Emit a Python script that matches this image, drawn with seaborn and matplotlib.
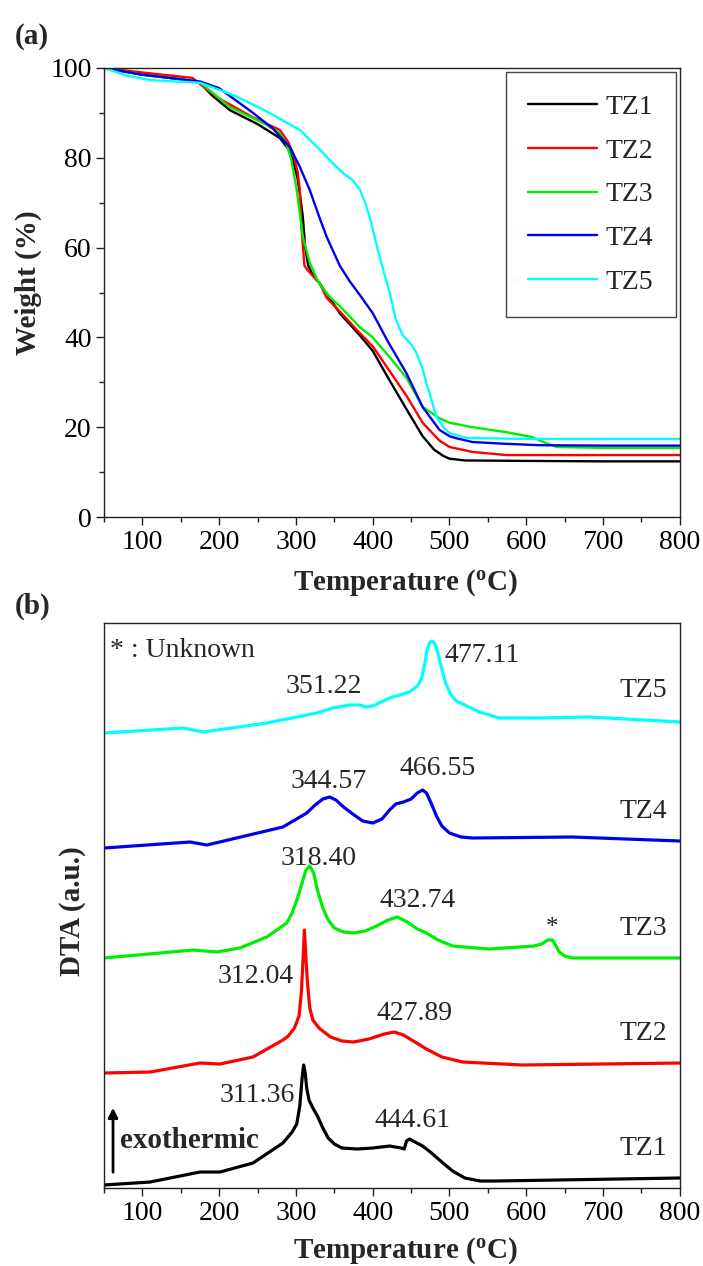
import matplotlib
matplotlib.use('Agg')
import matplotlib.pyplot as plt
from matplotlib.ticker import MultipleLocator
import numpy as np
import seaborn as sns
import pandas as pd

samples = ['TZ1', 'TZ2', 'TZ3', 'TZ4', 'TZ5']
colors = ['#000000', '#ff0000', '#00ee00', '#0000ee', '#00ffff']

# ---- TGA (panel a), weight % ----
tz1_x = [50, 100, 150, 175, 190, 214, 250, 279, 290, 296, 302, 305, 309, 312, 316, 320, 331, 345, 357, 383, 400, 420, 444, 465, 480, 492, 500, 520, 600, 700, 800]
tz1_y = [100, 98.5, 97.5, 96.7, 94, 90.6, 87.5, 84.4, 82, 79.5, 75.5, 72, 66.8, 60, 56, 54.5, 52, 48.5, 45.4, 40.5, 37, 31, 24, 18, 15, 13.6, 13, 12.6, 12.5, 12.4, 12.4]
tz2_x = [50, 100, 132, 165, 197, 244, 279, 290, 296, 302, 305, 307, 311, 315, 331, 340, 357, 383, 400, 420, 444, 465, 487, 500, 530, 574, 700, 800]
tz2_y = [100, 99, 98.4, 97.8, 93.5, 89, 86.2, 83.5, 81, 77, 73, 65, 56, 55, 52, 48.8, 45.8, 41, 38, 33, 27, 21, 17, 15.6, 14.5, 13.8, 13.8, 13.8]
tz3_x = [50, 100, 150, 175, 214, 260, 279, 288, 294, 301, 309, 318, 330, 344, 357, 383, 400, 420, 444, 465, 487, 500, 530, 574, 608, 625, 640, 700, 800]
tz3_y = [100, 98.5, 97.5, 96.8, 91.3, 87.5, 85.5, 83, 79.5, 72.8, 62.4, 56.6, 52, 49, 47, 42.3, 40, 36, 31, 24.5, 22, 21, 20, 18.9, 17.8, 16.5, 15.6, 15.4, 15.4]
tz4_x = [50, 100, 150, 175, 200, 244, 270, 292, 305, 318, 330, 340, 357, 370, 383, 400, 420, 444, 465, 487, 500, 510, 530, 574, 617, 700, 800]
tz4_y = [100, 98.5, 97.5, 97, 95.5, 90, 86.5, 82.4, 78, 72.8, 67, 62.4, 56, 52.5, 49.5, 45.4, 39, 32, 24.5, 19.4, 18, 17.5, 16.7, 16.3, 16, 15.9, 15.9]
tz5_x = [50, 80, 110, 175, 218, 260, 305, 330, 348, 362, 374, 383, 390, 396, 409, 422, 430, 439, 450, 457, 465, 470, 483, 492, 500, 522, 600, 700, 800]
tz5_y = [100, 98.3, 97.3, 96.7, 94, 90.5, 86.2, 82, 78.8, 76.5, 75, 73, 70, 66.8, 57.9, 50, 44, 40.5, 38.5, 36.5, 33, 29.8, 22.3, 20, 18.7, 17.6, 17.4, 17.4, 17.4]

# ---- DTA (panel b), arbitrary units (stacked curves) ----
d1_x = [50, 110, 175, 201, 244, 283, 295, 301, 305, 308, 310, 312, 314, 317, 322, 328, 335, 342, 350, 360, 380, 400, 422, 437, 441, 444, 448, 455, 465, 475, 490, 504, 520, 540, 560, 800]
d1_y = [3, 6, 16, 16, 25, 45, 56, 64, 82, 110, 123, 115, 100, 88, 80, 72, 60, 50, 44, 40, 39, 40, 42, 40, 39, 47, 49, 46, 42, 36, 26, 17, 10, 7, 7, 10]
d2_x = [50, 110, 175, 201, 244, 283, 290, 298, 304, 307, 309, 311, 313, 315, 318, 322, 330, 345, 360, 375, 395, 415, 428, 440, 455, 470, 490, 517, 595, 800]
d2_y = [115, 116, 125, 124, 131, 148, 152, 160, 172, 195, 225, 258, 230, 205, 180, 168, 160, 151, 147, 146, 149, 154, 156, 153, 146, 139, 131, 126, 123, 125]
d3_x = [50, 166, 197, 227, 262, 288, 295, 302, 308, 313, 318, 323, 328, 335, 342, 350, 362, 375, 390, 405, 420, 432, 445, 458, 470, 485, 504, 552, 610, 620, 628, 634, 638, 643, 650, 660, 800]
d3_y = [230, 238, 236, 240, 251, 265, 275, 290, 305, 318, 322, 315, 298, 280, 268, 260, 256, 255, 257, 262, 268, 271, 266, 259, 255, 248, 242, 239, 242, 244, 248, 248, 243, 236, 232, 230, 230]
d4_x = [50, 162, 184, 283, 314, 325, 335, 344, 352, 362, 374, 387, 400, 412, 422, 430, 440, 450, 458, 465, 470, 476, 483, 490, 500, 515, 530, 660, 800]
d4_y = [340, 346, 343, 361, 375, 383, 389, 391, 388, 381, 374, 367, 365, 369, 378, 384, 386, 389, 395, 398, 395, 385, 372, 362, 355, 351, 350, 351, 347]
d5_x = [50, 153, 166, 179, 262, 327, 348, 370, 383, 392, 400, 422, 448, 458, 463, 468, 471, 474, 477, 480, 484, 487, 492, 496, 502, 509, 539, 565, 617, 682, 800]
d5_y = [455, 460, 458, 456, 465, 475, 480, 483, 483, 481, 482, 490, 496, 502, 508, 525, 539, 545, 547, 545, 538, 528, 513, 503, 493, 487, 476, 470, 470, 471, 466]

peak_labels = ['351.22', '477.11', '344.57', '466.55', '318.40', '432.74',
               '312.04', '427.89', '311.36', '444.61']
peak_x = [336, 542, 342, 485, 329, 458, 248, 454, 249, 452]
peak_y = [495, 526, 400, 413, 323, 281, 205, 168, 86, 61]
name_y = [33, 148, 253, 370, 491]

tga = pd.concat([
    pd.DataFrame({'T': x, 'W': y, 'sample': s})
    for x, y, s in zip([tz1_x, tz2_x, tz3_x, tz4_x, tz5_x],
                       [tz1_y, tz2_y, tz3_y, tz4_y, tz5_y], samples)])
dta = pd.concat([
    pd.DataFrame({'T': x, 'D': y, 'sample': s})
    for x, y, s in zip([d1_x, d2_x, d3_x, d4_x, d5_x],
                       [d1_y, d2_y, d3_y, d4_y, d5_y], samples)])
pal = dict(zip(samples, colors))

sns.set_style('ticks')
plt.rcParams['font.family'] = ['Liberation Serif', 'DejaVu Serif']
plt.rcParams['mathtext.default'] = 'regular'
plt.rcParams['lines.solid_joinstyle'] = 'round'

fig = plt.figure(figsize=(7.03, 12.66), dpi=100)
ax1 = fig.add_axes([0.148, 0.5916, 0.819, 0.3547])
ax2 = fig.add_axes([0.148, 0.0616, 0.819, 0.4463])

FS = 20

# panel a
sns.lineplot(data=tga, x='T', y='W', hue='sample', palette=pal, estimator=None,
             sort=False, linewidth=1.7, ax=ax1)
ax1.set_xlim(50, 800)
ax1.set_ylim(0, 100)
ax1.xaxis.set_major_locator(MultipleLocator(100))
ax1.xaxis.set_minor_locator(MultipleLocator(50))
ax1.yaxis.set_major_locator(MultipleLocator(20))
ax1.yaxis.set_minor_locator(MultipleLocator(10))
ax1.set_xticks([100, 200, 300, 400, 500, 600, 700, 800])
h, l = ax1.get_legend_handles_labels()
keep = [(hh, ll) for hh, ll in zip(h, l) if ll in samples]
ax1.legend([k[0] for k in keep], [k[1] for k in keep], loc='upper right',
           fontsize=FS, frameon=True, fancybox=False, edgecolor='#444444',
           framealpha=1, handlelength=2.5, handletextpad=0.3,
           labelspacing=0.66, borderpad=0.8, borderaxespad=0.15)
ax1.get_legend().get_frame().set_linewidth(1.0)

# panel b
sns.lineplot(data=dta, x='T', y='D', hue='sample', palette=pal, estimator=None,
             sort=False, linewidth=2.3, legend=False, ax=ax2)
ax2.set_xlim(50, 800)
ax2.set_ylim(0, 565)
ax2.xaxis.set_major_locator(MultipleLocator(100))
ax2.xaxis.set_minor_locator(MultipleLocator(50))
ax2.set_xticks([100, 200, 300, 400, 500, 600, 700, 800])
ax2.set_yticks([])

for ax in (ax1, ax2):
    for sp in ax.spines.values():
        sp.set_visible(True)
        sp.set_linewidth(1.0)
        sp.set_color('#222222')
    ax.tick_params(which='major', direction='out', length=6, width=1.0,
                   labelsize=FS, pad=3, colors='#222222', labelcolor='black')
    ax.tick_params(which='minor', direction='out', length=3.5, width=1.0,
                   colors='#222222')
    ax.set_xlabel('Temperature ($^{o}$C)', fontsize=FS + 1, fontweight='bold')

ax1.set_ylabel('Weight (%)', fontsize=FS + 1, fontweight='bold')
ax2.set_ylabel('DTA (a.u.)', fontsize=FS + 1, fontweight='bold')

ax1.xaxis.set_label_coords(0.523, -0.147)
ax1.xaxis.label.set_va('center')
ax2.xaxis.set_label_coords(0.523, -0.1115)
ax2.xaxis.label.set_va('center')
ax1.yaxis.set_label_coords(-0.132, 0.521)
ax1.yaxis.label.set_va('center')
ax2.yaxis.set_label_coords(-0.0556, 0.49)
ax2.yaxis.label.set_va('center')

# annotations in panel b
for t, x, y in zip(peak_labels, peak_x, peak_y):
    ax2.text(x, y, t, fontsize=FS, ha='center', va='baseline')
for s, y in zip(samples, name_y):
    ax2.text(783, y, s, fontsize=FS, ha='right', va='baseline')
ax2.text(633, 254, '*', fontsize=FS - 2, ha='center', va='baseline')
ax2.text(58, 531, '* : Unknown', fontsize=FS, ha='left', va='baseline')
ax2.text(71, 40, 'exothermic', fontsize=FS + 1, fontweight='bold',
         ha='left', va='baseline')
ax2.annotate('', xy=(61.7, 83), xytext=(61.7, 13),
             arrowprops=dict(arrowstyle='-|>', color='black', lw=2,
                             mutation_scale=14))

fig.text(15 / 703, 1 - 36 / 1266, '(a)', fontsize=FS + 1, fontweight='bold',
         ha='left', va='center')
fig.text(15 / 703, 1 - 606 / 1266, '(b)', fontsize=FS + 1, fontweight='bold',
         ha='left', va='center')

fig.savefig('out.png', dpi=100)
